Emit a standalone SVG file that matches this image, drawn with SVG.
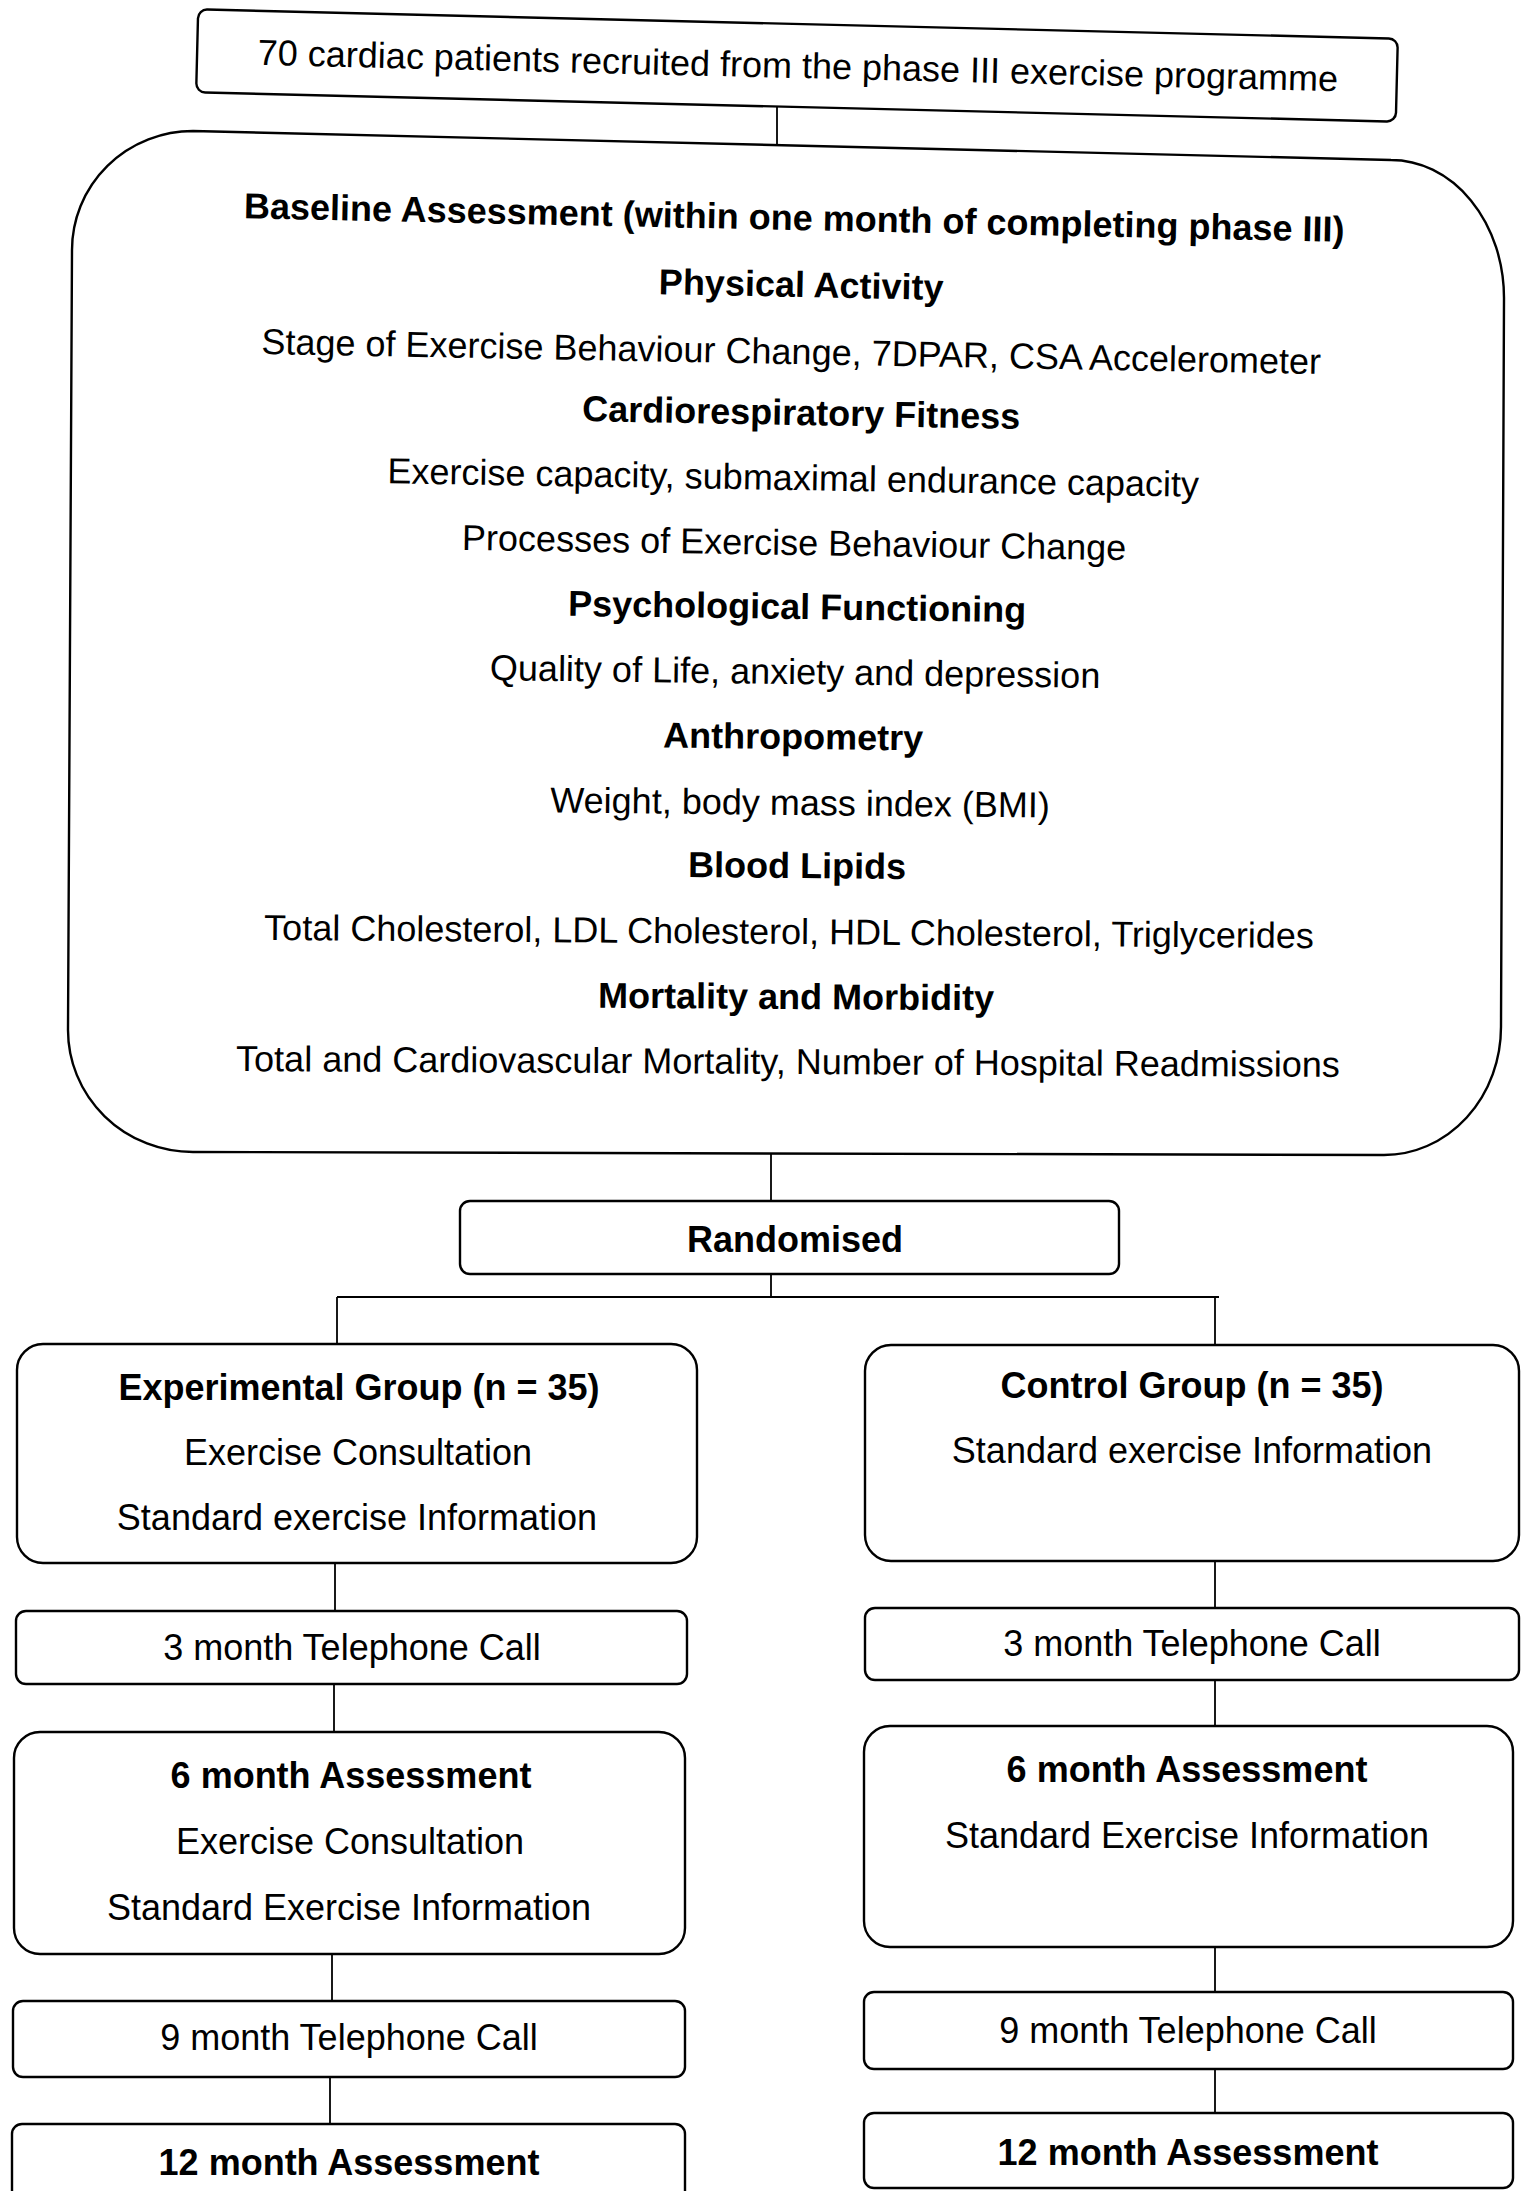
<svg xmlns="http://www.w3.org/2000/svg" width="1524" height="2191" viewBox="0 0 1524 2191">
<style>
.box{fill:#fff;stroke:#000;stroke-width:2.4}
.t{font-family:"Liberation Sans",Arial,sans-serif;font-size:36px;fill:#000;text-anchor:middle}
.b{font-weight:bold}
.c{stroke:#000;stroke-width:1.8;fill:none}
</style>
<rect width="1524" height="2191" fill="#fff"/>
<g id="connectors">
<line class="c" x1="777" y1="106" x2="777" y2="145"/>
<line class="c" x1="771" y1="1153" x2="771" y2="1201"/>
<line class="c" x1="771" y1="1274" x2="771" y2="1297"/>
<line class="c" x1="337" y1="1297" x2="1219" y2="1297"/>
<line class="c" x1="337" y1="1297" x2="337" y2="1344"/>
<line class="c" x1="1215" y1="1297" x2="1215" y2="1345"/>
<line class="c" x1="335" y1="1563" x2="335" y2="1611"/>
<line class="c" x1="1215" y1="1561" x2="1215" y2="1608"/>
<line class="c" x1="334" y1="1684" x2="334" y2="1732"/>
<line class="c" x1="1215" y1="1680" x2="1215" y2="1726"/>
<line class="c" x1="332" y1="1954" x2="332" y2="2001"/>
<line class="c" x1="1215" y1="1947" x2="1215" y2="1992"/>
<line class="c" x1="330" y1="2077" x2="330" y2="2124"/>
<line class="c" x1="1215" y1="2069" x2="1215" y2="2113"/>
</g>
<g id="recruited" transform="rotate(1.4 797 65)">
<rect class="box" x="197" y="24" width="1200" height="83" rx="9"/>
<text class="t" x="798" y="78">70 cardiac patients recruited from the phase III exercise programme</text>
</g>
<g id="baseline">
<path class="box" d="M193,131 L1391,160 A113 138 0 0 1 1504,298 L1501,1027 A117 128 0 0 1 1384,1155 L193,1152 A125 122 0 0 1 68,1030 L72,250 A121 119 0 0 1 193,131 Z"/>
<text class="t b" x="794" y="230" transform="rotate(1.23 794 230)">Baseline Assessment (within one month of completing phase III)</text>
<text class="t b" x="801" y="297" transform="rotate(1.15 801 297)">Physical Activity</text>
<text class="t" x="791" y="364" transform="rotate(1.09 791 364)">Stage of Exercise Behaviour Change, 7DPAR, CSA Accelerometer</text>
<text class="t b" x="801" y="425" transform="rotate(1.02 801 425)">Cardiorespiratory Fitness</text>
<text class="t" x="793" y="490" transform="rotate(0.95 793 490)">Exercise capacity, submaximal endurance capacity</text>
<text class="t" x="794" y="555" transform="rotate(0.88 794 555)">Processes of Exercise Behaviour Change</text>
<text class="t b" x="797" y="619" transform="rotate(0.8 797 619)">Psychological Functioning</text>
<text class="t" x="795" y="684" transform="rotate(0.73 795 684)">Quality of Life, anxiety and depression</text>
<text class="t b" x="793" y="749" transform="rotate(0.66 793 749)">Anthropometry</text>
<text class="t" x="800" y="815" transform="rotate(0.58 800 815)">Weight, body mass index (BMI)</text>
<text class="t b" x="797" y="878" transform="rotate(0.51 797 878)">Blood Lipids</text>
<text class="t" x="789" y="944" transform="rotate(0.44 789 944)">Total Cholesterol, LDL Cholesterol, HDL Cholesterol, Triglycerides</text>
<text class="t b" x="796" y="1009" transform="rotate(0.37 796 1009)">Mortality and Morbidity</text>
<text class="t" x="788" y="1074" transform="rotate(0.3 788 1074)">Total and Cardiovascular Mortality, Number of Hospital Readmissions</text>
</g>
<g id="randomised">
<rect class="box" x="460" y="1201" width="659" height="73" rx="10"/>
<text class="t b" x="795" y="1252">Randomised</text>
</g>
<g id="experimental">
<rect class="box" x="17" y="1344" width="680" height="219" rx="26"/>
<text class="t b" x="359" y="1400">Experimental Group (n = 35)</text>
<text class="t" x="358" y="1465">Exercise Consultation</text>
<text class="t" x="357" y="1530">Standard exercise Information</text>
</g>
<g id="control">
<rect class="box" x="865" y="1345" width="654" height="216" rx="26"/>
<text class="t b" x="1192" y="1398">Control Group (n = 35)</text>
<text class="t" x="1192" y="1463">Standard exercise Information</text>
</g>
<g id="exp-3m">
<rect class="box" x="16" y="1611" width="671" height="73" rx="10"/>
<text class="t" x="352" y="1660">3 month Telephone Call</text>
</g>
<g id="ctl-3m">
<rect class="box" x="865" y="1608" width="654" height="72" rx="10"/>
<text class="t" x="1192" y="1656">3 month Telephone Call</text>
</g>
<g id="exp-6m">
<rect class="box" x="14" y="1732" width="671" height="222" rx="26"/>
<text class="t b" x="351" y="1788">6 month Assessment</text>
<text class="t" x="350" y="1854">Exercise Consultation</text>
<text class="t" x="349" y="1920">Standard Exercise Information</text>
</g>
<g id="ctl-6m">
<rect class="box" x="864" y="1726" width="649" height="221" rx="26"/>
<text class="t b" x="1187" y="1782">6 month Assessment</text>
<text class="t" x="1187" y="1848">Standard Exercise Information</text>
</g>
<g id="exp-9m">
<rect class="box" x="13" y="2001" width="672" height="76" rx="10"/>
<text class="t" x="349" y="2050">9 month Telephone Call</text>
</g>
<g id="ctl-9m">
<rect class="box" x="864" y="1992" width="649" height="77" rx="10"/>
<text class="t" x="1188" y="2043">9 month Telephone Call</text>
</g>
<g id="exp-12m">
<rect class="box" x="12" y="2124" width="673" height="100" rx="10"/>
<text class="t b" x="349" y="2175">12 month Assessment</text>
</g>
<g id="ctl-12m">
<rect class="box" x="864" y="2113" width="649" height="75" rx="10"/>
<text class="t b" x="1188" y="2165">12 month Assessment</text>
</g>
</svg>
